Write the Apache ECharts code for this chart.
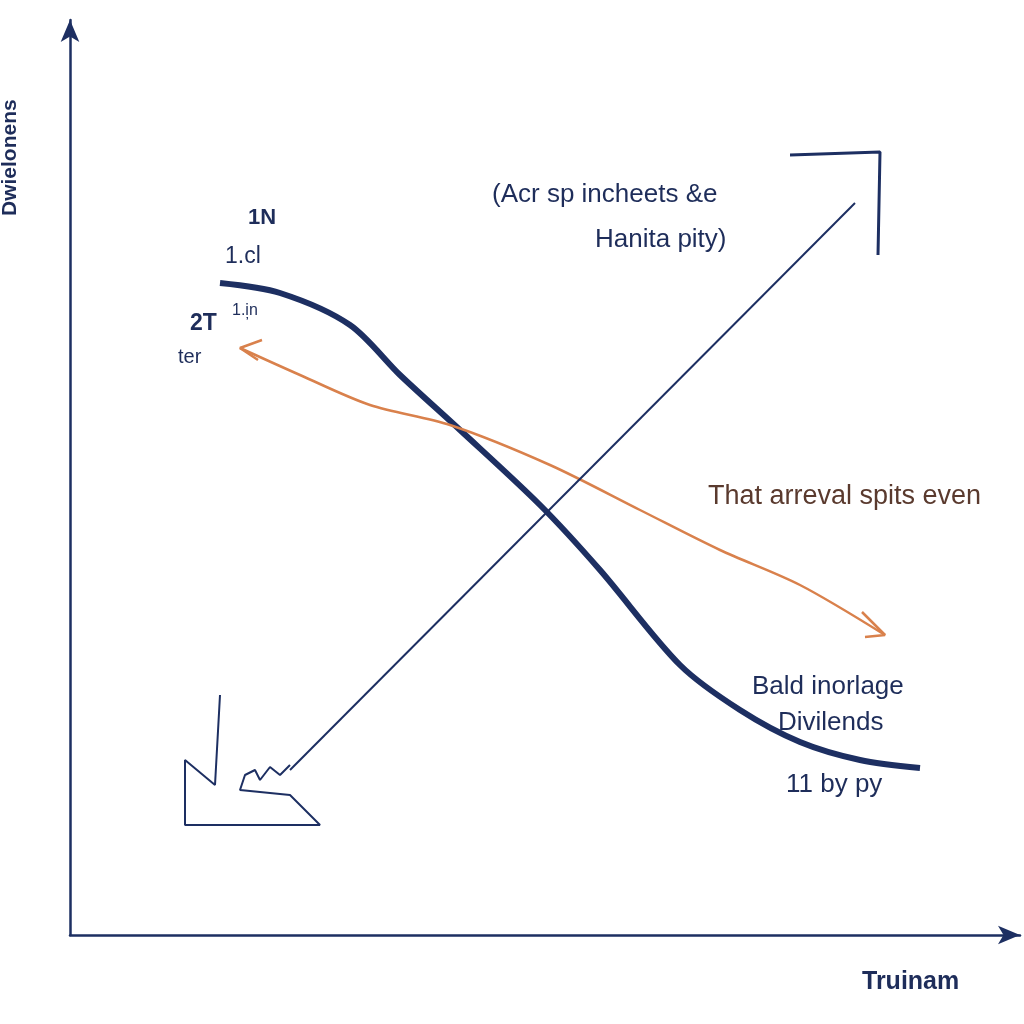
<!DOCTYPE html>
<html>
<head>
<meta charset="utf-8">
<script src="https://cdn.jsdelivr.net/npm/echarts@6/dist/echarts.min.js"></script>
</head>
<body style="margin:0;background:#fff">
<div id="container" style="width:1024px;height:1024px"></div>
<script>
// data units: x from axis origin, y up from axis origin
var navyCurve = [[150,652],[210,642],[280,610],[330,560],[390,505],[470,430],[530,365],[610,270],[670,225],[730,193],[790,175],[850,167]];
var orangeCurve = [[170,587],[230,560],[300,530],[380,510],[480,470],[570,425],[650,385],[730,350],[815,300]];
var orangeHeadL = [[192,595],[170,587],[188,575]];
var orangeHeadR = [[792,323],[815,300],[795,298]];
var thinDiag = [[220,165],[785,732]];
var thinHead = [[720,780],[810,783],[808,680]];
var jagged = [[150,240],[145,150],[115,175],[115,110],[250,110],[220,140],[170,145],[175,160],[185,165],[190,155],[200,168],[210,160],[220,170]];

var navy = '#1d2f62', orange = '#d9814c';
var F = '"Liberation Sans", Arial, sans-serif';
var chart = echarts.init(document.getElementById('container'));
function ser(d, c, w) {
  return {type:'line', data:d, symbol:'none', smooth:false, lineStyle:{color:c, width:w}, silent:true};
}
chart.setOption({
  animation:false,
  grid:{left:70, right:4, top:20, bottom:89},
  xAxis:{type:'value', min:0, max:950, splitLine:{show:false}, axisTick:{show:false}, axisLabel:{show:false},
    axisLine:{lineStyle:{color:navy, width:2.5}, symbol:['none','arrow'], symbolSize:[14,22]}},
  yAxis:{type:'value', min:0, max:915, splitLine:{show:false}, axisTick:{show:false}, axisLabel:{show:false},
    axisLine:{lineStyle:{color:navy, width:2.5}, symbol:['none','arrow'], symbolSize:[14,22]}},
  series:[
    Object.assign(ser(navyCurve, navy, 6), {smooth:0.3}),
    Object.assign(ser(orangeCurve, orange, 2.5), {smooth:0.3}),
    ser(orangeHeadL, orange, 2.5),
    ser(orangeHeadR, orange, 2.5),
    ser(thinDiag, navy, 2),
    ser(thinHead, navy, 3),
    ser(jagged, navy, 2)
  ],
  graphic:[
    {type:'text', x:0, y:216, rotation:Math.PI/2, style:{text:'Dwielonens', font:'bold 21px ' + F, fill:'#1e2d5a'}},
    {type:'text', left:862, top:970, style:{text:'Truinam', font:'bold 25px ' + F, fill:'#1e2d5a'}},
    {type:'text', left:248, top:207, style:{text:'1N', font:'bold 22px ' + F, fill:'#1e2d5a'}},
    {type:'text', left:225, top:245, style:{text:'1.cl', font:'23px ' + F, fill:'#1e2d5a'}},
    {type:'text', left:190, top:312, style:{text:'2T', font:'bold 23px ' + F, fill:'#1e2d5a'}},
    {type:'text', left:232, top:303, style:{text:'1.i\u0326n', font:'16px ' + F, fill:'#1e2d5a'}},
    {type:'text', left:178, top:347, style:{text:'ter', font:'20px ' + F, fill:'#1e2d5a'}},
    {type:'text', left:492, top:182, style:{text:'(Acr sp incheets &e', font:'26px ' + F, fill:'#1e2d5a'}},
    {type:'text', left:595, top:227, style:{text:'Hanita pity)', font:'26px ' + F, fill:'#1e2d5a'}},
    {type:'text', left:708, top:483, style:{text:'That arreval spits even', font:'27px ' + F, fill:'#5a3a2e'}},
    {type:'text', left:752, top:674, style:{text:'Bald inorlage', font:'26px ' + F, fill:'#1e2d5a'}},
    {type:'text', left:778, top:710, style:{text:'Divilends', font:'26px ' + F, fill:'#1e2d5a'}},
    {type:'text', left:786, top:772, style:{text:'11 by py', font:'26px ' + F, fill:'#1e2d5a'}}
  ]
});
</script>
</body>
</html>
